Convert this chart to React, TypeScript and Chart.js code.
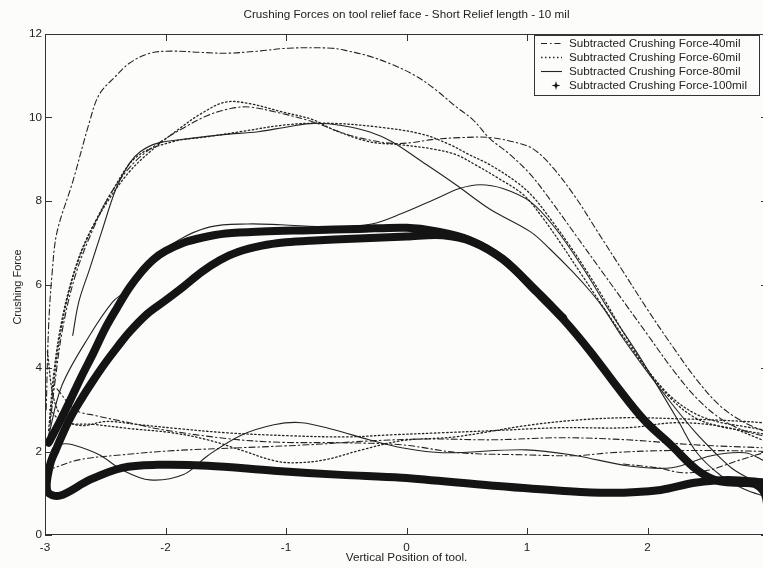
import React, { useEffect, useRef } from 'react';
import { Chart, registerables } from 'chart.js';

Chart.register(...registerables);

// ---------------- text ----------------
const chartTitle = 'Crushing Forces on tool relief face - Short Relief length - 10 mil';
const xAxisTitle = 'Vertical Position of tool.';
const yAxisTitle = 'Crushing Force';
const seriesLabels = [
  'Subtracted Crushing Force-40mil',
  'Subtracted Crushing Force-60mil',
  'Subtracted Crushing Force-80mil',
  'Subtracted Crushing Force-100mil',
];
const xTicks = [-3, -2, -1, 0, 1, 2, 3];
const yTicks = [0, 2, 4, 6, 8, 10, 12];

type Pt = [number, number];

// ---------------- 40 mil (dash-dot) ----------------
const f40Top: Pt[] = [[-2.99, 3.0], [-2.97, 5.0], [-2.94, 6.3], [-2.9, 7.26], [-2.77, 8.46], [-2.63, 9.9], [-2.55, 10.55], [-2.41, 11.0], [-2.3, 11.3], [-2.13, 11.54], [-1.94, 11.59], [-1.71, 11.56], [-1.49, 11.54], [-1.23, 11.59], [-0.98, 11.66], [-0.62, 11.66], [-0.48, 11.59], [-0.31, 11.47], [-0.12, 11.27], [0.08, 10.99], [0.24, 10.67], [0.41, 10.26], [0.55, 9.95], [0.69, 9.5], [0.86, 9.11], [1.03, 8.63], [1.2, 8.0], [1.4, 7.2], [1.6, 6.4], [1.8, 5.6], [2.0, 4.8], [2.2, 4.0], [2.4, 3.3], [2.6, 2.8], [2.8, 2.5], [3.0, 2.35]];
const f40Hump: Pt[] = [[-2.97, 2.3], [-2.92, 3.6], [-2.85, 5.0], [-2.75, 6.2], [-2.62, 7.2], [-2.45, 8.2], [-2.25, 8.95], [-2.05, 9.4], [-1.85, 9.75], [-1.65, 10.05], [-1.45, 10.22], [-1.3, 10.25], [-1.04, 10.1], [-0.78, 9.9], [-0.55, 9.65], [-0.37, 9.5], [-0.12, 9.38], [0.05, 9.4], [0.21, 9.47], [0.46, 9.52], [0.69, 9.52], [0.91, 9.4], [1.05, 9.25], [1.2, 8.85], [1.4, 8.1], [1.6, 7.2], [1.8, 6.3], [2.0, 5.4], [2.2, 4.55], [2.4, 3.75], [2.6, 3.1], [2.8, 2.7], [3.0, 2.45]];
const f40LowA: Pt[] = [[-2.97, 1.56], [-2.72, 1.8], [-2.36, 1.92], [-1.94, 2.02], [-1.38, 2.09], [-0.82, 2.16], [-0.26, 2.26], [0.2, 2.3], [0.72, 2.28], [1.28, 2.33], [1.83, 2.28], [2.39, 2.16], [2.95, 2.09]];
const f40LowB: Pt[] = [[-2.9, 3.5], [-2.75, 3.0], [-2.58, 2.86], [-2.3, 2.69], [-2.02, 2.52], [-1.46, 2.3], [-1.04, 2.22], [-0.54, 2.21], [-0.04, 2.16], [0.44, 1.97], [0.99, 1.92], [1.41, 1.9], [1.69, 1.97], [2.11, 2.02], [2.67, 2.02], [3.0, 2.0]];
const f40LowC: Pt[] = [[1.8, 1.7], [2.08, 1.61], [2.3, 1.49], [2.52, 1.56], [2.63, 1.66], [2.77, 1.8], [3.0, 2.0]];

// ---------------- 60 mil (dotted) ----------------
const f60Hump: Pt[] = [[-2.97, 2.5], [-2.93, 3.8], [-2.87, 5.0], [-2.78, 6.1], [-2.67, 7.0], [-2.5, 7.9], [-2.3, 8.7], [-2.1, 9.25], [-1.9, 9.7], [-1.7, 10.1], [-1.5, 10.37], [-1.3, 10.33], [-1.04, 10.14], [-0.78, 9.95], [-0.6, 9.7], [-0.31, 9.42], [-0.06, 9.35], [0.21, 9.25], [0.41, 9.11], [0.57, 8.87], [0.77, 8.53], [0.97, 8.15], [1.13, 7.6], [1.3, 6.9], [1.45, 6.25], [1.6, 5.6], [1.8, 4.75], [2.0, 3.95], [2.2, 3.3], [2.4, 2.9], [2.6, 2.7], [2.8, 2.6], [3.0, 2.5]];
const f60Flat: Pt[] = [[-2.96, 2.7], [-2.9, 4.3], [-2.82, 5.6], [-2.72, 6.6], [-2.6, 7.4], [-2.45, 8.2], [-2.24, 9.06], [-1.94, 9.42], [-1.65, 9.54], [-1.38, 9.66], [-0.98, 9.83], [-0.62, 9.86], [-0.2, 9.76], [0.13, 9.6], [0.36, 9.35], [0.52, 9.11], [0.69, 8.87], [0.91, 8.46], [1.05, 8.1], [1.2, 7.55], [1.35, 6.95], [1.5, 6.3], [1.65, 5.6], [1.8, 4.85], [2.0, 3.95], [2.2, 3.25], [2.4, 2.8], [2.6, 2.6], [2.8, 2.5], [3.0, 2.4]];
const f60LowA: Pt[] = [[-2.98, 4.4], [-2.93, 3.3], [-2.85, 2.8], [-2.7, 2.62], [-2.49, 2.72], [-2.21, 2.64], [-1.9, 2.55], [-1.5, 2.45], [-1.0, 2.38], [-0.5, 2.35], [-0.12, 2.4], [0.3, 2.45], [0.72, 2.5], [1.28, 2.57], [1.83, 2.57], [2.25, 2.69], [2.67, 2.57], [2.95, 2.28], [3.0, 2.2]];
const f60LowB: Pt[] = [[-2.96, 3.0], [-2.85, 2.7], [-2.6, 2.65], [-2.3, 2.55], [-1.95, 2.45], [-1.65, 2.28], [-1.38, 2.04], [-1.1, 1.78], [-0.93, 1.73], [-0.68, 1.8], [-0.37, 2.04], [-0.04, 2.26], [0.4, 2.35], [0.99, 2.62], [1.4, 2.75], [1.83, 2.81], [2.3, 2.78], [2.6, 2.75], [2.95, 2.69], [3.0, 2.65]];

// ---------------- 80 mil (solid) ----------------
const f80High: Pt[] = [[-2.77, 4.78], [-2.72, 5.58], [-2.63, 6.37], [-2.53, 7.26], [-2.41, 8.3], [-2.3, 8.9], [-2.21, 9.18], [-2.07, 9.38], [-1.79, 9.5], [-1.52, 9.59], [-1.23, 9.66], [-0.98, 9.78], [-0.77, 9.86], [-0.54, 9.81], [-0.31, 9.66], [-0.12, 9.42], [0.13, 8.94], [0.41, 8.39], [0.69, 7.81], [1.03, 7.26], [1.19, 6.85], [1.38, 6.3], [1.53, 5.82], [1.64, 5.41], [1.8, 4.7], [2.0, 3.9], [2.2, 3.15], [2.4, 2.45], [2.55, 2.0], [2.7, 1.6], [2.85, 1.35], [3.0, 1.2]];
const f80Mid: Pt[] = [[-2.97, 2.38], [-2.86, 3.58], [-2.63, 4.78], [-2.44, 5.58], [-2.32, 5.87], [-2.15, 6.5], [-1.9, 7.05], [-1.63, 7.38], [-1.32, 7.45], [-1.04, 7.43], [-0.62, 7.38], [-0.29, 7.45], [-0.04, 7.7], [0.24, 8.05], [0.44, 8.3], [0.61, 8.39], [0.8, 8.3], [1.03, 7.98], [1.24, 7.33], [1.47, 6.37], [1.69, 5.34], [1.91, 4.38], [2.08, 3.58], [2.25, 2.76], [2.41, 1.97], [2.61, 1.42], [2.8, 1.1], [3.0, 0.9]];
const f80Low: Pt[] = [[-2.97, 1.8], [-2.93, 2.1], [-2.86, 2.18], [-2.77, 2.16], [-2.55, 1.92], [-2.36, 1.56], [-2.13, 1.32], [-1.85, 1.45], [-1.65, 1.9], [-1.38, 2.38], [-1.1, 2.64], [-0.87, 2.69], [-0.6, 2.52], [-0.31, 2.28], [-0.04, 2.09], [0.3, 1.97], [0.99, 2.04], [1.41, 1.9], [1.83, 1.66], [2.2, 1.61], [2.53, 1.9], [2.81, 1.97], [2.95, 1.8], [3.0, 1.7]];

// ---------------- 100 mil (thick star markers) ----------------
const f100Up: Pt[] = [[-2.97, 2.21], [-2.88, 2.7], [-2.8, 3.17], [-2.7, 3.78], [-2.6, 4.35], [-2.5, 4.95], [-2.4, 5.45], [-2.3, 5.92], [-2.2, 6.3], [-2.1, 6.6], [-2.0, 6.8], [-1.85, 7.0], [-1.7, 7.12], [-1.5, 7.22], [-1.2, 7.27], [-0.8, 7.3], [-0.4, 7.33], [0.0, 7.36], [0.24, 7.28], [0.52, 7.07], [0.8, 6.61], [1.08, 5.82], [1.3, 5.17], [1.53, 4.38], [1.74, 3.58], [1.97, 2.76], [2.2, 2.14], [2.41, 1.56], [2.58, 1.3], [2.75, 1.25], [2.89, 1.22], [2.97, 1.0], [3.0, 0.6]];
const f100Loop: Pt[] = [[3.0, 1.25], [2.67, 1.32], [2.39, 1.25], [2.11, 1.08], [1.69, 1.01], [1.28, 1.06], [0.72, 1.18], [-0.04, 1.37], [-0.54, 1.44], [-1.1, 1.54], [-1.65, 1.66], [-2.07, 1.68], [-2.36, 1.61], [-2.63, 1.32], [-2.88, 0.94], [-2.98, 1.05], [-2.96, 1.66], [-2.91, 2.04], [-2.8, 2.75], [-2.7, 3.25], [-2.6, 3.7], [-2.5, 4.12], [-2.4, 4.5], [-2.3, 4.86], [-2.15, 5.3], [-2.0, 5.62], [-1.85, 5.95], [-1.7, 6.3], [-1.55, 6.58], [-1.4, 6.78], [-1.2, 6.93], [-1.0, 7.01], [-0.8, 7.05], [-0.4, 7.1], [0.0, 7.15], [0.3, 7.18], [0.55, 7.02], [0.8, 6.6], [1.08, 5.84], [1.3, 5.2]];

// ---------------- styles ----------------
const FONT = '"Liberation Sans", Arial, Helvetica, sans-serif';
const FONT_SIZE = 11.7;
const TEXT = '#222222';
const AXIS = '#333333';
const BG = '#fcfcfa';

const seriesStyle = [
  { color: '#242424', width: 1.1, dash: [6, 3, 1.5, 3] },
  { color: '#242424', width: 1.3, dash: [1.5, 2.5] },
  { color: '#242424', width: 1.1, dash: [] as number[] },
  { color: '#141414', width: 8, dash: [] as number[] },
];

const curves: { series: number; pts: Pt[] }[] = [
  { series: 3, pts: f100Up },
  { series: 3, pts: f100Loop },
  { series: 2, pts: f80High },
  { series: 2, pts: f80Mid },
  { series: 2, pts: f80Low },
  { series: 1, pts: f60Hump },
  { series: 1, pts: f60Flat },
  { series: 1, pts: f60LowA },
  { series: 1, pts: f60LowB },
  { series: 0, pts: f40Top },
  { series: 0, pts: f40Hump },
  { series: 0, pts: f40LowA },
  { series: 0, pts: f40LowB },
  { series: 0, pts: f40LowC },
];

const decor = {
  id: 'decor',
  beforeDraw(chart: any) {
    const { ctx, width, height } = chart;
    ctx.save();
    ctx.fillStyle = BG;
    ctx.fillRect(0, 0, width, height);
    ctx.restore();
  },
  afterDraw(chart: any) {
    const { ctx, chartArea, scales } = chart;
    const { left, right, top, bottom } = chartArea;
    ctx.save();
    ctx.strokeStyle = AXIS;
    ctx.lineWidth = 1;
    ctx.setLineDash([]);
    ctx.strokeRect(Math.round(left) + 0.5, Math.round(top) + 0.5, Math.round(right - left) - 1, Math.round(bottom - top) - 1);
    ctx.beginPath();
    for (const v of xTicks) {
      const px = Math.round(scales.x.getPixelForValue(v)) + 0.5;
      ctx.moveTo(px, bottom); ctx.lineTo(px, bottom - 7);
      ctx.moveTo(px, top); ctx.lineTo(px, top + 7);
    }
    for (const v of yTicks) {
      const py = Math.round(scales.y.getPixelForValue(v)) + 0.5;
      ctx.moveTo(left, py); ctx.lineTo(left + 7, py);
      ctx.moveTo(right, py); ctx.lineTo(right - 7, py);
    }
    ctx.stroke();

    // title
    ctx.fillStyle = TEXT;
    ctx.font = `${FONT_SIZE}px ${FONT}`;
    ctx.textAlign = 'center';
    ctx.textBaseline = 'middle';
    ctx.fillText(chartTitle, (left + right) / 2, 15);

    // y axis title
    ctx.save();
    ctx.translate(18, 287);
    ctx.rotate(-Math.PI / 2);
    ctx.font = `11px ${FONT}`;
    ctx.fillText(yAxisTitle, 0, 0);
    ctx.restore();

    // legend
    const bx = 534.5, by = 35.5, bw = 225, bh = 60;
    ctx.fillStyle = BG;
    ctx.fillRect(bx, by, bw, bh);
    ctx.strokeStyle = AXIS;
    ctx.strokeRect(bx, by, bw, bh);
    ctx.textAlign = 'left';
    seriesLabels.forEach((label, i) => {
      const ry = 43.5 + i * 14;
      const st = seriesStyle[i];
      ctx.strokeStyle = st.color;
      ctx.fillStyle = st.color;
      if (i < 3) {
        ctx.lineWidth = st.width;
        ctx.setLineDash(st.dash);
        ctx.beginPath();
        ctx.moveTo(541, ry); ctx.lineTo(562, ry);
        ctx.stroke();
        ctx.setLineDash([]);
      } else {
        const cx = 556, cy = ry, R = 4.5, r = 1.4;
        ctx.beginPath();
        for (let k = 0; k < 8; k++) {
          const ang = -Math.PI / 2 + (k * Math.PI) / 4;
          const rad = k % 2 === 0 ? R : r;
          const xx = cx + rad * Math.cos(ang), yy = cy + rad * Math.sin(ang);
          if (k === 0) ctx.moveTo(xx, yy); else ctx.lineTo(xx, yy);
        }
        ctx.closePath();
        ctx.fill();
      }
      ctx.fillStyle = TEXT;
      ctx.fillText(label, 569, ry);
    });
    ctx.restore();
  },
};

export default function App() {
  const ref = useRef<HTMLCanvasElement | null>(null);
  useEffect(() => {
    const canvas = ref.current;
    if (!canvas) return;
    const datasets = curves.map((c) => {
      const st = seriesStyle[c.series];
      return {
        label: seriesLabels[c.series],
        data: c.pts.map(([x, y]) => ({ x, y })),
        borderColor: st.color,
        backgroundColor: st.color,
        borderWidth: st.width,
        borderDash: st.dash,
        borderCapStyle: 'round' as const,
        borderJoinStyle: 'round' as const,
        pointRadius: 0,
        pointHoverRadius: 0,
        tension: 0.35,
        fill: false,
      };
    });
    const chart = new Chart(canvas, {
      type: 'line',
      data: { datasets },
      options: {
        animation: false,
        responsive: false,
        devicePixelRatio: 1,
        events: [],
        layout: { padding: { left: 0, right: 2, top: 34, bottom: 0 } },
        plugins: { legend: { display: false }, tooltip: { enabled: false }, title: { display: false } },
        scales: {
          x: {
            type: 'linear',
            min: -3,
            max: 3,
            afterBuildTicks: (s: any) => { s.ticks = xTicks.map((v) => ({ value: v })); },
            afterFit: (s: any) => { s.height = 33; s.paddingLeft = 0; s.paddingRight = 0; },
            grid: { display: false, drawTicks: false },
            border: { display: false },
            ticks: { color: TEXT, font: { family: FONT, size: FONT_SIZE }, padding: 6, maxRotation: 0, autoSkip: false, callback: (v: any) => String(v) },
            title: { display: true, text: xAxisTitle, color: TEXT, font: { family: FONT, size: FONT_SIZE }, padding: { top: 0, bottom: 3 } },
          },
          y: {
            type: 'linear',
            min: 0,
            max: 12,
            afterBuildTicks: (s: any) => { s.ticks = yTicks.map((v) => ({ value: v })); },
            afterFit: (s: any) => { s.width = 45; s.paddingTop = 0; s.paddingBottom = 0; },
            grid: { display: false, drawTicks: false },
            border: { display: false },
            ticks: { color: TEXT, font: { family: FONT, size: FONT_SIZE }, padding: 3, autoSkip: false, callback: (v: any) => String(v) },
          },
        },
      },
      plugins: [decor],
    });
    return () => chart.destroy();
  }, []);

  return (
    <div style={{ position: 'fixed', left: 0, top: 0, width: 763, height: 568, overflow: 'hidden', background: BG }}>
      <canvas ref={ref} width={770} height={568} style={{ display: 'block', width: 770, height: 568 }} />
    </div>
  );
}
